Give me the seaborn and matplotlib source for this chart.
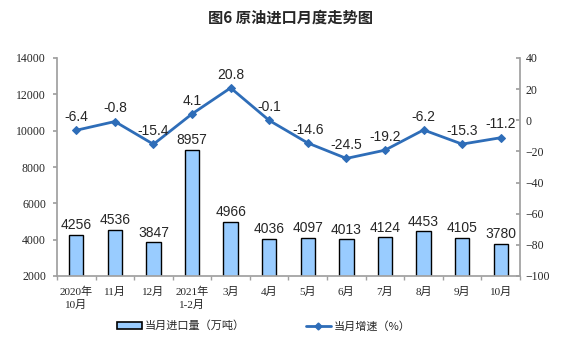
import numpy as np
import pandas as pd
import matplotlib
matplotlib.use("Agg")
import matplotlib.pyplot as plt
import seaborn as sns
from matplotlib.patches import Patch
from matplotlib.lines import Line2D

categories = ["2020年\n10月", "11月", "12月", "2021年\n1-2月", "3月", "4月", "5月",
              "6月", "7月", "8月", "9月", "10月"]
imports = [4256, 4536, 3847, 8957, 4966, 4036, 4097, 4013, 4124, 4453, 4105, 3780]
growth = [-6.4, -0.8, -15.4, 4.1, 20.8, -0.1, -14.6, -24.5, -19.2, -6.2, -15.3, -11.2]

sns.set_theme(style="white")
plt.rcParams['font.family'] = ['Liberation Sans', 'Noto Sans CJK SC', 'DejaVu Sans']

df = pd.DataFrame({"cat": categories, "imports": imports, "growth": growth,
                   "idx": np.arange(len(categories))})

fig = plt.figure(figsize=(5.75, 3.56), dpi=100)
ax = fig.add_axes([57/575, 1-276/356, (520-57)/575, (276-58)/356])

bar_color = "#99CCFF"
line_color = "#2E6DB8"
sns.barplot(data=df, x="cat", y="imports", ax=ax, color=bar_color, width=0.37,
            edgecolor="black", linewidth=1.0, saturation=1)
ax.set_ylim(2000, 14000)
ax.set_yticks(np.arange(2000, 14001, 2000))
ax.set_xlim(-0.5, len(categories)-0.5)
ax.set_xlabel("")
ax.set_ylabel("")
for i, v in enumerate(imports):
    ax.text(i, v + 150, str(v), ha="center", va="bottom", fontsize=10,
            family="Liberation Sans")

ax2 = ax.twinx()
sns.lineplot(data=df, x="idx", y="growth", ax=ax2, color=line_color, linewidth=2,
             marker="D", markersize=4, markeredgecolor=line_color)
ax2.set_ylim(-100, 40)
ax2.set_yticks(np.arange(-100, 41, 20))
ax2.set_xlim(-0.5, len(categories)-0.5)
ax2.set_xlabel("")
ax2.set_ylabel("")
for i, v in enumerate(growth):
    ax2.text(i, v + 4.0, f"{v:.1f}", ha="center", va="bottom", fontsize=10,
             family="Liberation Sans")

grey = "#A0A0A0"
for a in (ax, ax2):
    for s in a.spines.values():
        s.set_visible(False)
ax.spines["left"].set_visible(True)
ax.spines["left"].set_color(grey)
ax.spines["bottom"].set_visible(True)
ax.spines["bottom"].set_color(grey)
ax2.spines["right"].set_visible(True)
ax2.spines["right"].set_color(grey)

ax.tick_params(axis="y", direction="out", length=3, color=grey, left=True,
               labelsize=8.5, pad=5)
for lab in ax.get_yticklabels():
    lab.set_family("Liberation Serif")
ax2.tick_params(axis="y", direction="in", length=3, color=grey, right=True,
                labelsize=8.5, pad=4)
for lab in ax2.get_yticklabels():
    lab.set_family("Liberation Serif")

# category separators on the x axis
ax.set_xticks(np.arange(len(categories)))
ax.set_xticklabels(categories, fontsize=8, linespacing=1.25)
for lab in ax.get_xticklabels():
    lab.set_family(["Liberation Serif", "Noto Sans CJK SC"])
ax.tick_params(axis="x", length=0, pad=8)
ax.set_xticks(np.arange(len(categories)+1) - 0.5, minor=True)
ax.tick_params(axis="x", which="minor", direction="out", length=3, color=grey, bottom=True)

fig.suptitle("图6 原油进口月度走势图", x=290/575, y=1-18/356, va="center",
             fontsize=11, fontweight="bold", family=["Noto Sans CJK SC"])

handles = [Patch(facecolor=bar_color, edgecolor="black", linewidth=1.2),
           Line2D([0], [0], color=line_color, lw=2, marker="D", markersize=3.5)]
fig.legend(handles, ["当月进口量（万吨）", "当月增速（%）"], loc="center",
           bbox_to_anchor=(264/575, 1-326/356), ncol=2, frameon=False,
           columnspacing=5.5, handlelength=2.2, handleheight=0.6,
           handletextpad=0.3, prop={"family": ["Noto Sans CJK SC"], "size": 8})

fig.savefig("out.png", dpi=100)
